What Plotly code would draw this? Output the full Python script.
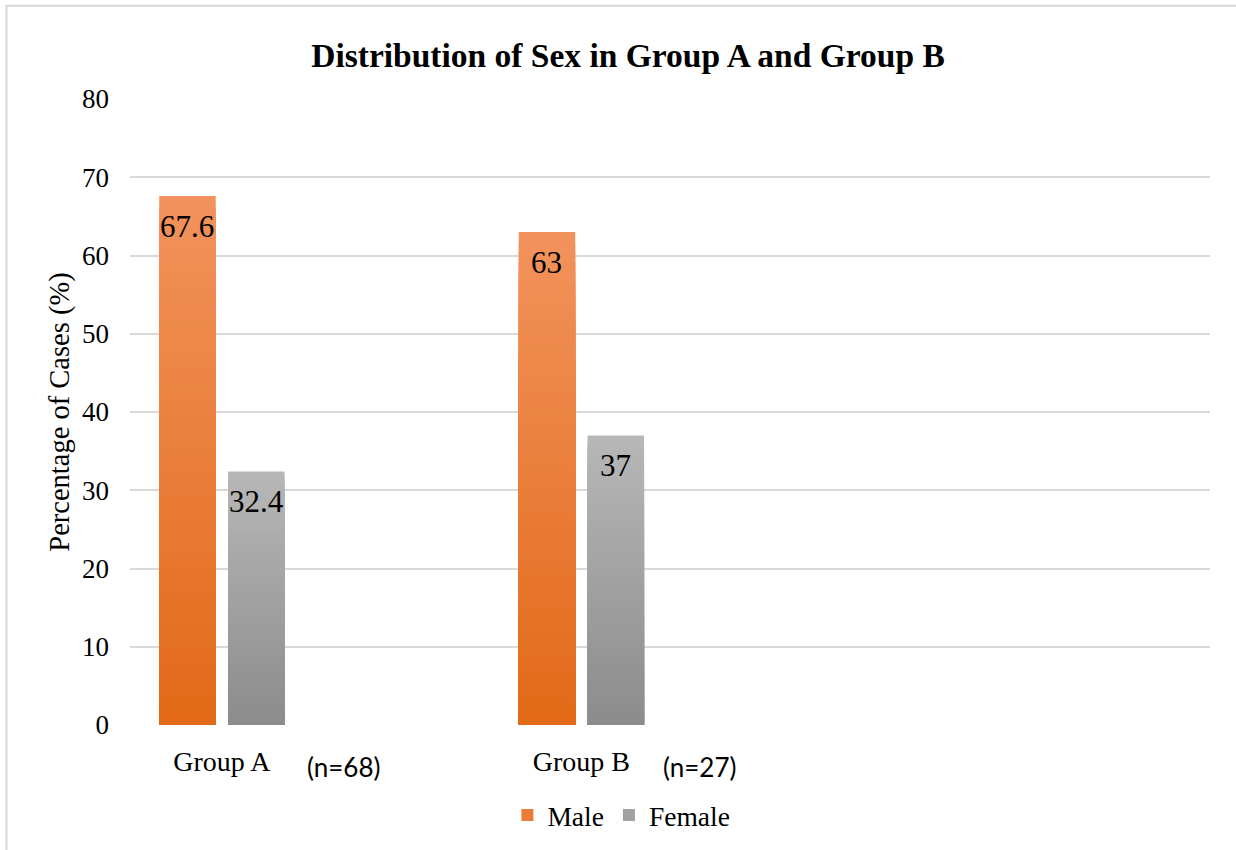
import plotly.graph_objects as go

# ---- data ----
groups = ["Group A", "Group B"]
group_sizes = ["(n=68)", "(n=27)"]
male_pct = [67.6, 63]
female_pct = [32.4, 37]

SERIF = "Liberation Serif, Times New Roman, serif"
SANS = "Lato, Open Sans, sans-serif"

# bar geometry in category units (one unit per group)
BAR_W = 0.157
MALE_OFF = -0.0957
FEMALE_OFF = 0.0957
N_STEPS = 48  # gradient steps per bar


def lerp(c1, c2, t):
    return "rgb(%d,%d,%d)" % tuple(round(a + (b - a) * t) for a, b in zip(c1, c2))


series = [
    ("Male", male_pct, MALE_OFF, (242, 146, 92), (226, 106, 24)),
    ("Female", female_pct, FEMALE_OFF, (183, 183, 183), (140, 140, 140)),
]

fig = go.Figure()
xs = list(range(len(groups)))

# Each bar is painted as a stack of overlaid bars, tallest first, so the
# visible colour runs from a light top to a darker base.
for name, vals, off, top_c, bot_c in series:
    for k in range(N_STEPS):
        frac = (N_STEPS - k) / N_STEPS
        t = k / (N_STEPS - 1)
        fig.add_trace(go.Bar(
            x=xs,
            y=[v * frac for v in vals],
            width=BAR_W,
            offset=off - BAR_W / 2,
            marker=dict(color=lerp(top_c, bot_c, t), line=dict(width=0)),
            name=name,
            legendgroup=name,
            showlegend=(k == N_STEPS // 2),
            hoverinfo="skip",
        ))

annotations = []
# value labels just inside the top of each bar
for name, vals, off, _, _ in series:
    for i, v in enumerate(vals):
        annotations.append(dict(
            x=i + off, y=v, xref="x", yref="y",
            text=f"{v:g}", showarrow=False,
            yanchor="top", yshift=-11,
            font=dict(family=SERIF, size=31, color="#000000"),
        ))

# sample sizes beside the group labels
n_label_pos = [0.337, 1.329]
for xp, txt in zip(n_label_pos, group_sizes):
    annotations.append(dict(
        x=xp, y=0, xref="x", yref="y",
        text=txt, showarrow=False,
        yanchor="middle", yshift=-42,
        font=dict(family=SANS, size=26, color="#000000"),
    ))

fig.update_layout(
    width=1236, height=850,
    margin=dict(l=130, r=26, t=99, b=124),
    paper_bgcolor="white", plot_bgcolor="white",
    barmode="overlay",
    title=dict(
        text="<b>Distribution of Sex in Group A and Group B</b>",
        x=628 / 1236, xref="container", xanchor="center",
        y=1 - 55 / 850, yref="container", yanchor="middle",
        font=dict(family=SERIF, size=33.5, color="#000000"),
    ),
    showlegend=True,
    legend=dict(
        orientation="h", x=0.455, xanchor="center", y=-0.142, yanchor="middle",
        font=dict(family=SERIF, size=27.5, color="#000000"),
        itemwidth=30, tracegroupgap=0, bgcolor="rgba(0,0,0,0)",
    ),
    annotations=annotations,
    shapes=[dict(
        type="rect", xref="paper", yref="paper",
        x0=(6.5 - 130) / 1080, x1=1.2, y0=-0.3, y1=(726 - 5.5) / 627,
        line=dict(color="#D9D9D9", width=2), fillcolor="rgba(0,0,0,0)",
        layer="below",
    )],
)

fig.update_xaxes(
    range=[-0.2556, 2.7485],
    tickvals=xs, ticktext=groups,
    showgrid=False, zeroline=False, showline=False, ticks="",
    ticklabelstandoff=17,
    tickfont=dict(family=SERIF, size=28, color="#000000"),
)
fig.update_yaxes(
    range=[0, 80], dtick=10,
    showgrid=True, gridcolor="#D9D9D9", gridwidth=2,
    zeroline=False, showline=False, ticks="",
    ticklabelstandoff=20,
    tickfont=dict(family=SERIF, size=27, color="#000000"),
    title=dict(text="Percentage of Cases (%)", standoff=4,
               font=dict(family=SERIF, size=28.5, color="#000000")),
)

fig.write_html("out.html")
